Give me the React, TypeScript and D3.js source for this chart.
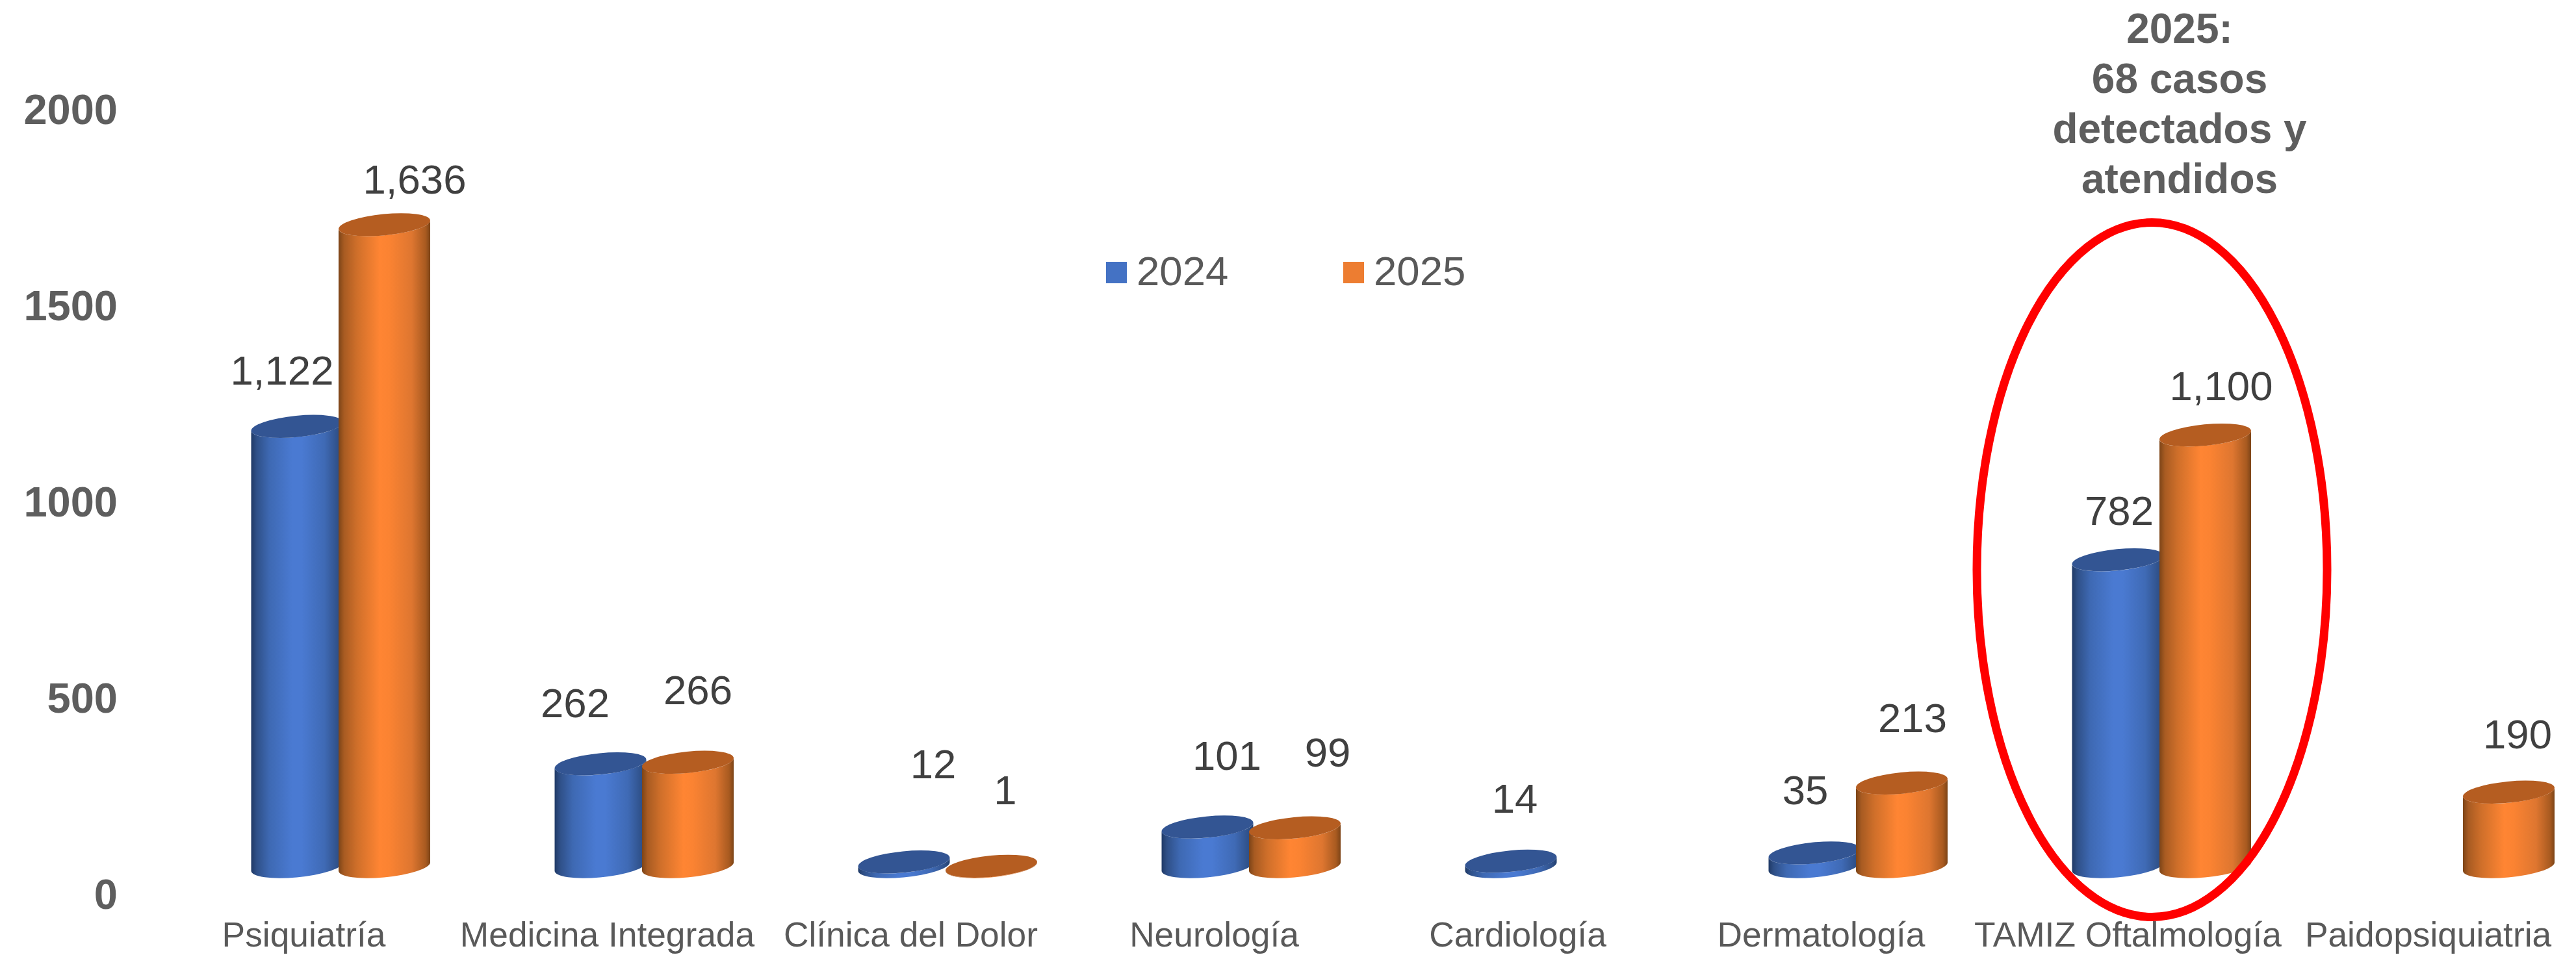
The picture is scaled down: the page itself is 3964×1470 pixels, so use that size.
import React from "react";
import * as d3 from "d3";

const categories = ["Psiquiatría", "Medicina Integrada", "Clínica del Dolor", "Neurología", "Cardiología", "Dermatología", "TAMIZ Oftalmología", "Paidopsiquiatria"];
const series2024: (number | null)[] = [1122, 262, 12, 101, 14, 35, 782, null];
const series2025: (number | null)[] = [1636, 266, 1, 99, null, 213, 1100, 190];
const yTicks = [0, 500, 1000, 1500, 2000];
const seriesNames = ["2024", "2025"];
const annotation = ["2025:", "68 casos", "detectados y", "atendidos"];

// hand-placed data label anchors (centre x, baseline y), as in the original
const labelPos2024: ([number, number] | null)[] = [[434, 592], [885, 1104], [1436, 1198], [1888, 1185], [2331, 1251], [2778, 1238], [3261, 808], null];
const labelPos2025: ([number, number] | null)[] = [[638, 298], [1074, 1084], [1547, 1238], [2043, 1180], null, [2943, 1127], [3418, 616], [3874, 1152]];
const catLabelNudge = [0, 0, 0, 0, 0, 0, 5, 0];

const W = 3964, H = 1470;
const FONT = "'Liberation Sans', Arial, sans-serif";
const x = d3.scaleBand<string>().domain(categories).range([289, 4025]);
const y = d3.scaleLinear().domain([0, 2000]).range([1334, 126]);

const halfW = 70.5, tipDy = 6.5, rA = 70.8, rB = 16.4, tilt = -5.6;
const fmt = d3.format(",");

function bodyPath(cx: number, top: number, base: number) {
  const l = cx - halfW, r = cx + halfW;
  return `M${l},${top + tipDy} L${l},${base + tipDy} A${rA},${rB} ${tilt} 0 0 ${r},${base - tipDy} L${r},${top - tipDy} A${rA},${rB} ${tilt} 0 1 ${l},${top + tipDy} Z`;
}

function Cyl({ cx, v, grad, cap }: { cx: number; v: number; grad: string; cap: string }) {
  const top = y(v), base = y(0);
  return (
    <g>
      <path d={bodyPath(cx, top, base)} fill={`url(#${grad})`} />
      <ellipse cx={cx} cy={top} rx={rA} ry={rB} fill={cap} transform={`rotate(${tilt} ${cx} ${top})`} />
    </g>
  );
}

const orangeStops: [number, string][] = [[0, "#7c4417"], [0.06, "#a85b22"], [0.2, "#cf6f2a"], [0.45, "#ff8533"], [0.55, "#fb8332"], [0.8, "#de7630"], [0.95, "#a85a20"], [1, "#7c4417"]];
const blueStops: [number, string][] = [[0, "#203a66"], [0.06, "#2f5088"], [0.2, "#3e69b3"], [0.45, "#4a7ad2"], [0.55, "#4a7ad2"], [0.8, "#3f6ab5"], [0.95, "#2f5088"], [1, "#22406f"]];

export default function App() {
  const step = x.step();
  const offset = 65.5; // blue cylinder left of the band centre
  const centre = (c: string) => (x(c) as number) + step / 2;
  return (
    <svg width={W} height={H} viewBox={`0 0 ${W} ${H}`} style={{ position: "absolute", left: 0, top: 0, display: "block", background: "#fff" }} fontFamily={FONT}>
      <defs>
        <linearGradient id="gb" x1="0" x2="1" y1="0" y2="0">
          {blueStops.map(([o, c]) => <stop key={o} offset={o} stopColor={c} />)}
        </linearGradient>
        <linearGradient id="go" x1="0" x2="1" y1="0" y2="0">
          {orangeStops.map(([o, c]) => <stop key={o} offset={o} stopColor={c} />)}
        </linearGradient>
      </defs>

      {yTicks.map((t) => (
        <text key={t} x={181} y={y(t) + 65} textAnchor="end" fontSize={65} fontWeight={700} fill="#5e5e5e">{t}</text>
      ))}

      {categories.map((c, i) => (
        <g key={c}>
          {series2024[i] != null && <Cyl cx={centre(c) - offset} v={series2024[i] as number} grad="gb" cap="#335593" />}
          {series2025[i] != null && <Cyl cx={centre(c) + 69} v={series2025[i] as number} grad="go" cap="#b55d21" />}
        </g>
      ))}

      {categories.map((c, i) => (
        <text key={c} x={centre(c) - 55 + catLabelNudge[i]} y={1457} textAnchor="middle" fontSize={53.3} fill="#595959">{c}</text>
      ))}

      {series2024.map((v, i) => v != null && labelPos2024[i] && (
        <text key={i} x={labelPos2024[i]![0]} y={labelPos2024[i]![1]} textAnchor="middle" fontSize={63.5} fill="#404040">{fmt(v)}</text>
      ))}
      {series2025.map((v, i) => v != null && labelPos2025[i] && (
        <text key={i} x={labelPos2025[i]![0]} y={labelPos2025[i]![1]} textAnchor="middle" fontSize={63.5} fill="#404040">{fmt(v)}</text>
      ))}

      <rect x={1702} y={403} width={32} height={33} fill="#4472C4" />
      <text x={1749} y={439} fontSize={63.5} fill="#595959">{seriesNames[0]}</text>
      <rect x={2067} y={403} width={32} height={33} fill="#ED7D31" />
      <text x={2114} y={439} fontSize={63.5} fill="#595959">{seriesNames[1]}</text>

      {annotation.map((t, i) => (
        <text key={t} x={3354} y={66 + i * 77} textAnchor="middle" fontSize={64} fontWeight={700} fill="#5e5e5e">{t}</text>
      ))}

      <ellipse cx={3311.5} cy={877} rx={269.5} ry={534.5} fill="none" stroke="#FF0000" strokeWidth={13} />
    </svg>
  );
}
